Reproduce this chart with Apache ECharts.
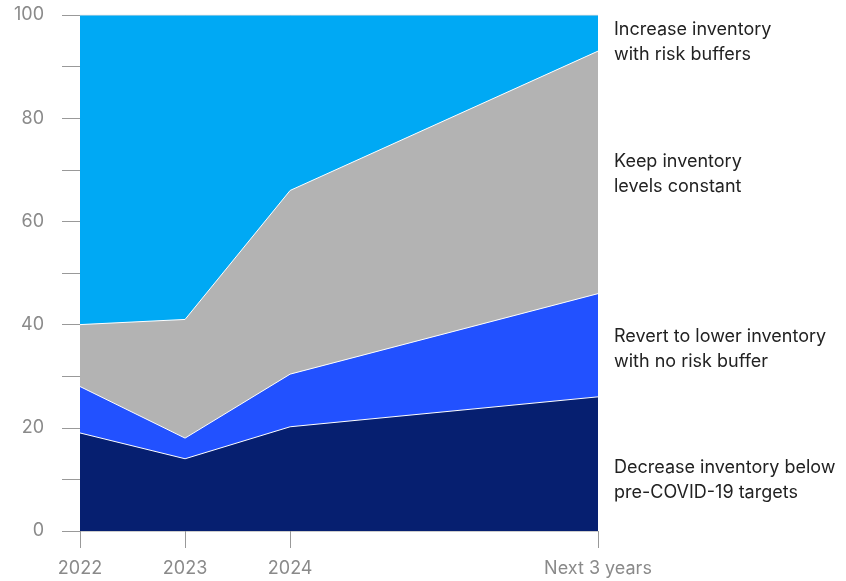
<!DOCTYPE html>
<html>
<head>
<meta charset="utf-8">
<script src="https://cdn.jsdelivr.net/npm/echarts@6/dist/echarts.min.js"></script>
<style>
  html, body { margin: 0; padding: 0; background: #fff; }
  #chart1 { width: 846px; height: 581px; }
</style>
</head>
<body>
<div id="chart1"></div>
<script>
// x positions: years since 2022 (the last point is "Next 3 years")
const xPos = [0, 1, 2, 4.93];
const xLabels = ['2022', '2023', '2024', 'Next 3 years'];

const seriesNames = [
    'Decrease inventory below\npre-COVID-19 targets',
    'Revert to lower inventory\nwith no risk buffer',
    'Keep inventory\nlevels constant',
    'Increase inventory\nwith risk buffers'
];
const decrease = [19, 14, 20.2, 26];
const revert = [9, 4, 10.2, 20];
const keep = [12, 23, 35.6, 47];
const increase = [60, 59, 34, 7];

const colors = ['#061F70', '#2251FF', '#B3B3B3', '#00A9F4'];
const labelY = [478, 347, 172, 40];

let chart1;

// stacking by hand (the x axis is a value axis with uneven gaps)
const layers = [decrease, revert, keep, increase];
const cumulative = [];
layers.forEach((vals, k) => {
    cumulative.push(vals.map((v, i) => v + (k > 0 ? cumulative[k - 1][i] : 0)));
});

const pairs = (vals) => vals.map((v, i) => [xPos[i], v]);

const getOptionChart1 = () => {
    return {
        animation: false,
        grid: { left: 80, right: 248, top: 15, bottom: 50 },
        xAxis: {
            type: 'value',
            min: 0,
            max: xPos[xPos.length - 1],
            axisLine: { show: true, lineStyle: { color: '#cccccc', width: 1 } },
            axisTick: { show: false },
            axisLabel: {
                customValues: xPos,
                formatter: (v) => {
                    const i = xPos.findIndex(p => Math.abs(p - v) < 1e-6);
                    return i >= 0 ? xLabels[i] : '';
                },
                color: '#8a8a8a',
                fontSize: 18,
                fontFamily: 'Inter',
                margin: 29
            },
            splitLine: { show: false }
        },
        yAxis: {
            type: 'value',
            min: 0,
            max: 100,
            interval: 10,
            axisLine: { show: false },
            axisTick: { show: true, length: 18, lineStyle: { color: '#999999' } },
            axisLabel: {
                formatter: (v) => (v % 20 === 0 ? String(v) : ''),
                color: '#8a8a8a',
                fontSize: 18,
                fontFamily: 'Inter',
                margin: 36
            },
            splitLine: { show: false }
        },
        series: cumulative.map((vals, k) => ({
            name: seriesNames[k],
            type: 'line',
            symbol: 'none',
            data: pairs(vals),
            lineStyle: { color: k === 3 ? '#dddddd' : '#ffffff', width: 1 },
            areaStyle: { color: colors[k], opacity: 1, origin: 'start' },
            z: 10 - k
        })),
        graphic: seriesNames.map((name, k) => ({
            type: 'text',
            left: 614,
            top: labelY[k] - 23,
            style: {
                text: name,
                fill: '#222222',
                font: '18px Inter',
                lineHeight: 25
            }
        }))
    };
};

const addXTicks = () => {
    const y0 = chart1.convertToPixel({ yAxisIndex: 0 }, 0);
    const ticks = xPos.map((v, i) => {
        const x = Math.round(chart1.convertToPixel({ xAxisIndex: 0 }, v)) + 0.5;
        return {
            type: 'line',
            id: 'xtick' + i,
            shape: { x1: x, y1: y0, x2: x, y2: y0 + 17 },
            style: { stroke: '#999999', lineWidth: 1 },
            z: 20
        };
    });
    chart1.setOption({ graphic: ticks });
};

const initCharts = () => {
    chart1 = echarts.init(document.getElementById('chart1'));
    chart1.setOption(getOptionChart1());
    addXTicks();
};

document.addEventListener('DOMContentLoaded', function () {
    initCharts();
});

window.addEventListener('resize', function () {
    chart1.resize();
    addXTicks();
});
</script>
</body>
</html>
